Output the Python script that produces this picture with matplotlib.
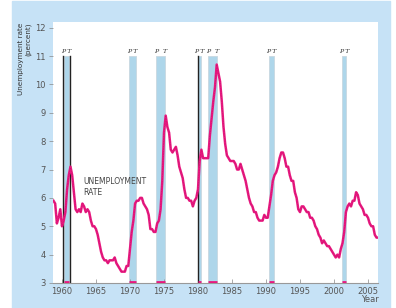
import matplotlib
matplotlib.use("Agg")
import matplotlib.pyplot as plt
from matplotlib.patches import Rectangle

# quarterly unemployment rate
years = [1958.75 + 0.25 * i for i in range(192)]
rate = [
    5.9,
    5.8, 5.1, 5.3, 5.6,
    5.0, 5.2, 5.5, 6.3,
    6.8, 7.1, 6.8, 6.2,
    5.6, 5.5, 5.6, 5.5,
    5.8, 5.7, 5.5, 5.6,
    5.5, 5.2, 5.0, 5.0,
    4.9, 4.7, 4.4, 4.1,
    3.9, 3.8, 3.8, 3.7,
    3.8, 3.8, 3.8, 3.9,
    3.7, 3.6, 3.5, 3.4,
    3.4, 3.4, 3.6, 3.6,
    4.2, 4.8, 5.2, 5.8,
    5.9, 5.9, 6.0, 6.0,
    5.8, 5.7, 5.6, 5.4,
    4.9, 4.9, 4.8, 4.8,
    5.1, 5.2, 5.6, 6.6,
    8.3, 8.9, 8.5, 8.3,
    7.7, 7.6, 7.7, 7.8,
    7.5, 7.1, 6.9, 6.7,
    6.3, 6.0, 6.0, 5.9,
    5.9, 5.7, 5.9, 6.0,
    6.3, 7.3, 7.7, 7.4,
    7.4, 7.4, 7.4, 8.2,
    8.8, 9.4, 9.9, 10.7,
    10.4, 10.1, 9.4, 8.5,
    7.9, 7.5, 7.4, 7.3,
    7.3, 7.3, 7.2, 7.0,
    7.0, 7.2, 7.0, 6.8,
    6.6, 6.3, 6.0, 5.8,
    5.7, 5.5, 5.5, 5.3,
    5.2, 5.2, 5.2, 5.4,
    5.3, 5.3, 5.7, 6.1,
    6.6, 6.8, 6.9, 7.1,
    7.4, 7.6, 7.6, 7.4,
    7.1, 7.1, 6.8, 6.6,
    6.6, 6.2, 6.0, 5.6,
    5.5, 5.7, 5.7, 5.6,
    5.5, 5.5, 5.3, 5.3,
    5.2, 5.0, 4.9, 4.7,
    4.6, 4.4, 4.5, 4.4,
    4.3, 4.3, 4.2, 4.1,
    4.0, 3.9, 4.0, 3.9,
    4.2, 4.4, 4.8, 5.5,
    5.7, 5.8, 5.7, 5.9,
    5.9, 6.2, 6.1, 5.8,
    5.7, 5.6, 5.4, 5.4,
    5.3, 5.1, 5.0, 5.0,
    4.7, 4.6, 4.6,
]
years = years[:len(rate)]

# recessions: peak (P) and trough (T)
rec_peak = [1960.33, 1969.92, 1973.83, 1980.0, 1981.5, 1990.5, 2001.17]
rec_trough = [1961.08, 1970.83, 1975.17, 1980.5, 1982.83, 1991.17, 2001.83]
black_lines = [1960.15, 1961.2, 1980.0]

x_ticks = [1960, 1965, 1970, 1975, 1980, 1985, 1990, 1995, 2000, 2005]
y_ticks = [3, 4, 5, 6, 7, 8, 9, 10, 11, 12]

pink = '#e8187f'
band = '#aed6ea'
grey = '#555555'

fig = plt.figure(figsize=(3.96, 3.08), dpi=100)
fig.patch.set_facecolor('white')
bg = Rectangle((12 / 396, 0), 378 / 396, 307 / 308,
               transform=fig.transFigure, color='#c6e2f6', zorder=-5)
fig.patches.append(bg)

ax = fig.add_axes([53 / 396, 25 / 308, 325 / 396, 261 / 308])
ax.set_zorder(1)
ax.set_facecolor('white')
ax.set_xlim(1958.68, 2006.47)
ax.set_ylim(3, 12.2)

for p, t in zip(rec_peak, rec_trough):
    ax.fill_between([p, t], 3, 11, color=band, lw=0.6, edgecolor='#c8d8e0', zorder=1)
    ax.plot([p, t], [3.03, 3.03], color=pink, lw=2, solid_capstyle='butt', zorder=3)
    if t - p < 1:
        ax.text((p + t) / 2, 11.08, 'P T', fontsize=4.5, style='italic', family='DejaVu Serif',
                ha='center', va='bottom', color='#333333')
    else:
        ax.text(p, 11.08, 'P', fontsize=4.5, style='italic', family='DejaVu Serif',
                ha='center', va='bottom', color='#333333')
        ax.text(t, 11.08, 'T', fontsize=4.5, style='italic', family='DejaVu Serif',
                ha='center', va='bottom', color='#333333')

for bx in black_lines:
    ax.plot([bx, bx], [3, 11], color='#222222', lw=1.0, zorder=2)

ax.plot(years, rate, color=pink, lw=1.8, zorder=4)
ax.plot(years, rate, color='#8a1050', lw=0.3, ls=(0, (1, 3)), zorder=5)

ax.text(1963.1, 6.75, 'UNEMPLOYMENT\nRATE', fontsize=5.5, color='#444444',
        ha='left', va='top', linespacing=1.3)

ax.set_xticks(x_ticks)
ax.set_xticklabels([str(v) for v in x_ticks])
ax.set_yticks(y_ticks)
ax.tick_params(axis='x', direction='in', length=3, width=0.5, colors='#888888',
               labelsize=6, labelcolor=grey, pad=3)
ax.tick_params(axis='y', direction='out', length=3, width=0.5, colors='#888888',
               labelsize=6, labelcolor=grey, pad=2)
for s in ['top', 'right', 'left']:
    ax.spines[s].set_visible(False)
ax.spines['bottom'].set_color('#999999')
ax.spines['bottom'].set_linewidth(0.8)

fig.text(25 / 396, 1 - 23 / 308, 'Unemployment rate\n(percent)', rotation=90,
         fontsize=5.2, color='#333333', ha='center', va='top', linespacing=1.2,
         multialignment='right')
fig.text(370 / 396, 1 - 300 / 308, 'Year', fontsize=6, color=grey, ha='center', va='center')

fig.savefig('out.png', dpi=100, facecolor=fig.get_facecolor())
